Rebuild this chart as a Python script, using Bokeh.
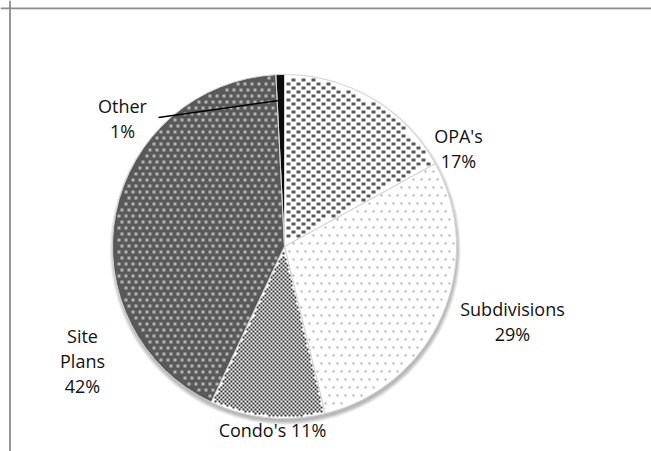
import numpy as np
from bokeh.plotting import figure
from bokeh.models import Range1d, Span
from bokeh.core.properties import value
from bokeh.embed import file_html
from bokeh.resources import INLINE

# ---- data ----
categories = ["OPA's", "Subdivisions", "Condo's", "Site Plans", "Other"]
shares = [17.0, 29.2, 10.8, 42.2, 0.8]          # percent of total
pct_labels = [f"{round(s)}%" for s in shares]
label_wrap = [True, True, False, True, True]

# ---- styles ----
fill_colors = ["white", "white", "white", "#595959", "#0d0d0d"]
tex_colors = ["#595959", "#b3b3b3", "#303030", "#b5b5b5", None]
# (tile_w, tile_h, offsets, mark_w, mark_h)
tex_specs = [
    (10, 8, [(0, 0), (5, 4)], 4, 3),
    (8, 16, [(0, 0), (4, 8)], 2, 2),
    (4, 4, [(0, 0), (2, 2)], 2, 2),
    (7, 12, [(0, 0), (3, 6)], 3, 3),
    None,
]

W, H = 651, 451
def py(Y):  # page y -> data y
    return H - Y

CXP, CYP, R = 284, 246, 172      # pie centre (page px) and radius
cx, cy = CXP, py(CYP)

p = figure(width=W, height=H, output_backend="svg", toolbar_location=None,
           x_range=Range1d(0, W), y_range=Range1d(0, H),
           x_axis_location=None, y_axis_location=None, min_border=0)
p.grid.visible = False
p.outline_line_color = None
p.background_fill_color = "white"
p.border_fill_color = "white"

# chart area border (left and top visible)
p.add_layout(Span(location=9.5, dimension="height", line_color="#8c8c8c", line_width=1.8))
p.add_layout(Span(location=py(7.8), dimension="width", line_color="#8c8c8c", line_width=1.8))

# soft shadow
for i in range(7):
    p.circle(x=[cx + 0.8], y=[cy - 3.0], radius=R + 0.6 * i, fill_color="black",
             fill_alpha=0.045, line_color=None)

# slices (clockwise from 12 o'clock)
frac = np.array(shares) / sum(shares)
cum = np.concatenate([[0], np.cumsum(frac)])
starts = np.pi / 2 - 2 * np.pi * cum[:-1]
ends = np.pi / 2 - 2 * np.pi * cum[1:]
for i in range(len(categories)):
    p.wedge(x=[cx], y=[cy], radius=R, start_angle=[starts[i]], end_angle=[ends[i]],
            direction="clock", fill_color=fill_colors[i], line_color=None)

def inside(k, X, Y):
    dx, dy = X - CXP, Y - CYP
    f = (np.arctan2(dx, -dy) / (2 * np.pi)) % 1.0
    d = np.hypot(dx, dy)
    return (d < R - 1.0) & (f >= cum[k]) & (f < cum[k + 1])

for k, spec in enumerate(tex_specs):
    if spec is None:
        continue
    tw, th, offs, mw, mh = spec
    gx, gy = np.meshgrid(np.arange(CXP - R - 16, CXP + R + 16, tw),
                         np.arange(CYP - R - 16, CYP + R + 16, th))
    X0 = np.concatenate([(gx + ox).ravel() for ox, oy in offs]).astype(float)
    Y0 = np.concatenate([(gy + oy).ravel() for ox, oy in offs]).astype(float)
    ok = np.ones_like(X0, dtype=bool)
    for ddx in (0, mw):
        for ddy in (0, mh):
            ok &= inside(k, X0 + ddx, Y0 + ddy)
    Xc = X0[ok] + mw / 2
    Yc = Y0[ok] + mh / 2
    p.rect(x=Xc, y=py(Yc), width=mw, height=mh, fill_color=tex_colors[k], line_color=None)

# slice separators
for i in range(len(categories)):
    p.wedge(x=[cx], y=[cy], radius=R, start_angle=[starts[i]], end_angle=[ends[i]],
            direction="clock", fill_color=None, line_color="#d4d4d4", line_width=1)

# leader line for "Other"
mid_other = (starts[4] + ends[4]) / 2
p.line(x=[158, cx + 0.85 * R * np.cos(mid_other)],
       y=[py(117), cy + 0.85 * R * np.sin(mid_other)],
       line_color="black", line_width=1.5)

# labels (first-line baseline position, page px)
label_pos = [(458, 135), (512, 308), (272, 429), (82, 335), (122, 105)]
line_gap = 25
xs, ys, ts = [], [], []
for i, name in enumerate(categories):
    lines = name.split(" ") + [pct_labels[i]] if label_wrap[i] else [f"{name} {pct_labels[i]}"]
    X, Y = label_pos[i]
    for k, t in enumerate(lines):
        xs.append(X); ys.append(py(Y + k * line_gap)); ts.append(t)
p.text(x=xs, y=ys, text=ts, text_align="center", text_baseline="alphabetic",
       text_font=value("Open Sans"), text_font_size="18px", text_color="#111111")

open("out.html", "w").write(file_html(p, INLINE))
